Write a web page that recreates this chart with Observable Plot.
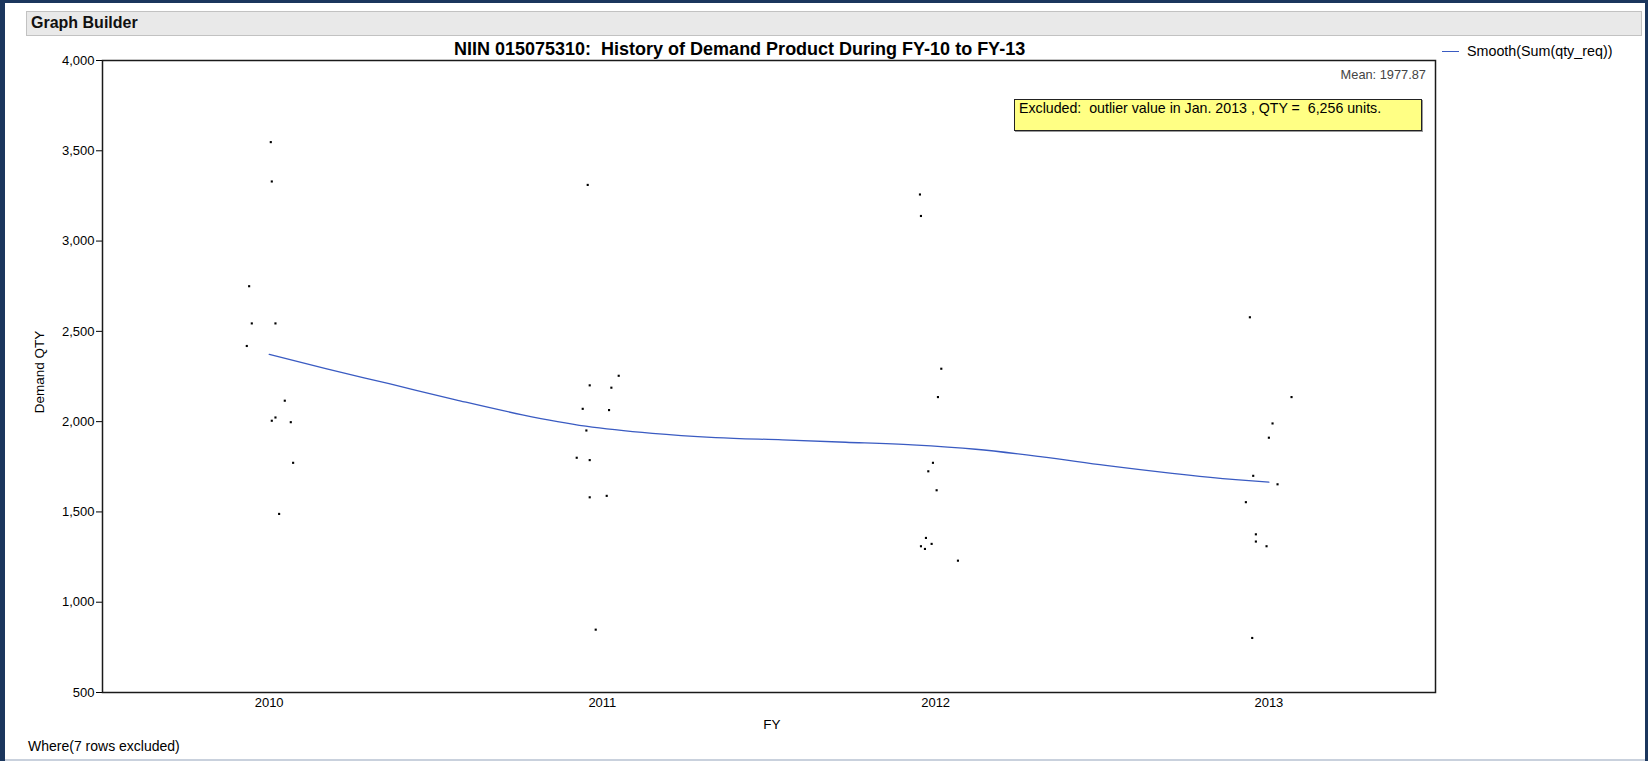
<!DOCTYPE html>
<html>
<head>
<meta charset="utf-8">
<script src="https://cdn.jsdelivr.net/npm/d3@7"></script>
<script src="https://cdn.jsdelivr.net/npm/@observablehq/plot@0.6"></script>
<style>
  html, body { margin: 0; padding: 0; background: #fff; overflow: hidden; }
  #page { position: relative; width: 1648px; height: 761px; font-family: "Liberation Sans", Arial, Helvetica, sans-serif; color: #000; }
  #chart { position: absolute; left: 0; top: 0; }
  .abs { position: absolute; white-space: nowrap; }
  #bLeft { left: 0; top: 0; width: 5px; height: 761px; background: #1B365D; }
  #bTop { left: 0; top: 0; width: 1648px; height: 3px; background: #1B365D; }
  #bRight { left: 1645px; top: 0; width: 3px; height: 761px; background: #1B365D; }
  #bBottom { left: 5px; top: 759px; width: 1640px; height: 2px; background: #C9D1DD; }
  #header { left: 26px; top: 11px; width: 1614px; height: 23px; background: #E9E9E9; border: 1px solid #C2C2C2; }
  #headerText { left: 31px; top: 13px; font-size: 16px; font-weight: bold; line-height: 19px; color: #111; }
  #title { left: 454px; top: 39px; font-size: 18px; font-weight: bold; line-height: 20px; }
  #ylabel { left: 39px; top: 372px; font-size: 13.5px; transform: translate(-50%, -50%) rotate(-90deg); }
  #xlabel { left: 772px; top: 724px; font-size: 13.5px; transform: translate(-50%, -50%); }
  #legLine { left: 1442px; top: 51px; width: 17px; height: 1.4px; background: #3A5BC2; }
  #legText { left: 1467px; top: 43px; font-size: 14.3px; line-height: 17px; }
  #mean { left: 1426px; top: 68px; font-size: 12.8px; color: #444; transform: translateX(-100%); line-height: 14px; }
  #note { left: 1014px; top: 99px; width: 406px; height: 30px; background: #FFFF84; border: 1px solid #222; box-shadow: 1px 1px 0 #999; }
  #noteText { left: 1019px; top: 100px; font-size: 14.2px; line-height: 16px; }
  #where { left: 28px; top: 738px; font-size: 14px; line-height: 16px; }
</style>
</head>
<body>
<div id="page">
  <div id="chart"></div>
  <div class="abs" id="bLeft"></div>
  <div class="abs" id="bTop"></div>
  <div class="abs" id="bRight"></div>
  <div class="abs" id="bBottom"></div>
  <div class="abs" id="header"></div>
  <div class="abs" id="headerText">Graph Builder</div>
  <div class="abs" id="title">NIIN 015075310:&nbsp; History of Demand Product During FY-10 to FY-13</div>
  <div class="abs" id="ylabel">Demand QTY</div>
  <div class="abs" id="xlabel">FY</div>
  <div class="abs" id="legLine"></div>
  <div class="abs" id="legText">Smooth(Sum(qty_req))</div>
  <div class="abs" id="mean">Mean: 1977.87</div>
  <div class="abs" id="note"></div>
  <div class="abs" id="noteText">Excluded:&nbsp; outlier value in Jan. 2013 , QTY =&nbsp; 6,256 units.</div>
  <div class="abs" id="where">Where(7 rows excluded)</div>
</div>
<script>
// ---- data ----
const xTicks = [2010, 2011, 2012, 2013];
const yTicks = [500, 1000, 1500, 2000, 2500, 3000, 3500, 4000];

// monthly demand points (FY, quantity, horizontal jitter within the FY column)
const fiscalYear = [
  2010, 2010, 2010, 2010, 2010, 2010, 2010, 2010, 2010, 2010, 2010, 2010,
  2011, 2011, 2011, 2011, 2011, 2011, 2011, 2011, 2011, 2011, 2011, 2011,
  2012, 2012, 2012, 2012, 2012, 2012, 2012, 2012, 2012, 2012, 2012, 2012,
  2013, 2013, 2013, 2013, 2013, 2013, 2013, 2013, 2013, 2013, 2013
];
const demandQty = [
  3548, 3330, 2750, 2544, 2544, 2419, 2116, 2023, 2005, 1997, 1772, 1489,
  3311, 2254, 2201, 2188, 2071, 2064, 1951, 1800, 1787, 1581, 1589, 848,
  3258, 3139, 2293, 2136, 1772, 1725, 1620, 1356, 1323, 1310, 1295, 1230,
  2578, 2136, 1990, 1911, 1700, 1653, 1554, 1376, 1336, 1310, 802
];
const jitterOffset = [
  0.005, 0.008, -0.060, -0.052, 0.019, -0.067, 0.047, 0.019, 0.008, 0.065, 0.072, 0.030,
  -0.044, 0.049, -0.038, 0.027, -0.059, 0.020, -0.048, -0.077, -0.038, -0.038, 0.013, -0.020,
  -0.047, -0.044, 0.017, 0.007, -0.008, -0.022, 0.003, -0.029, -0.012, -0.044, -0.032, 0.067,
  -0.057, 0.068, 0.011, 0.000, -0.047, 0.026, -0.069, -0.039, -0.039, -0.007, -0.050
];

// smoother curve
const smoothFY = [2010, 2010.17, 2010.36, 2010.56, 2010.76, 2010.95, 2011.15, 2011.34, 2011.54, 2011.73, 2011.93, 2012.12, 2012.32, 2012.51, 2012.71, 2012.9, 2013];
const smoothQty = [2373, 2293, 2210, 2121, 2038, 1975, 1935, 1912, 1899, 1886, 1871, 1847, 1805, 1758, 1714, 1679, 1665];

// ---- tables built from the arrays ----
const points = fiscalYear.map((fy, i) => ({fy, qty: demandQty[i], jit: jitterOffset[i]}));
const smooth = smoothFY.map((fy, i) => ({fy, qty: smoothQty[i]}));

const chart = Plot.plot({
  width: 1648,
  height: 761,
  marginLeft: 102,
  marginRight: 213,
  marginTop: 60,
  marginBottom: 69,
  style: {fontFamily: "Liberation Sans, Arial, Helvetica, sans-serif", fontSize: "13px", color: "#000", background: "transparent"},
  x: {domain: [2009.5, 2013.5], ticks: xTicks, tickFormat: d => String(d), tickSize: 0, tickPadding: 5, label: null},
  y: {domain: [500, 4000], ticks: yTicks, tickFormat: d3.format(","), tickSize: 6, tickPadding: 2, label: null},
  marks: [
    Plot.line(smooth, {x: "fy", y: "qty", curve: "monotone-x", stroke: "#3A5BC2", strokeWidth: 1.3}),
    Plot.dot(points, {x: d => d.fy + d.jit, y: "qty", symbol: "square", r: 1.2, fill: "#000", stroke: "none"}),
    Plot.frame({stroke: "#1a1a1a", strokeWidth: 1.5})
  ]
});
document.getElementById("chart").appendChild(chart);
</script>
</body>
</html>
